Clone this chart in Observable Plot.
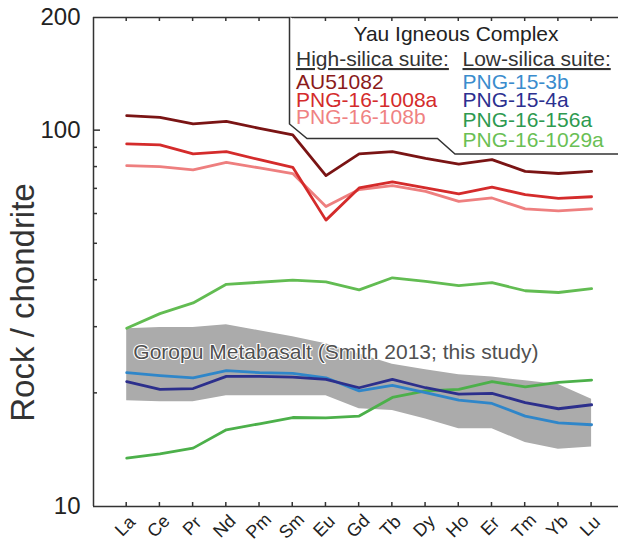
<!DOCTYPE html>
<html><head><meta charset="utf-8">
<script src="https://cdn.jsdelivr.net/npm/d3@7"></script>
<script src="https://cdn.jsdelivr.net/npm/@observablehq/plot@0.6"></script>
<style>
html,body{margin:0;padding:0;background:#fff;}
#chart{position:relative;width:618px;height:547px;overflow:hidden;}
svg{display:block;}
.xlab{position:absolute;left:0;top:0;font-family:'Liberation Sans',Arial,sans-serif;font-size:18px;color:#222;
  line-height:18px;white-space:nowrap;transform-origin:50% 50%;}
</style></head><body><div id="chart"></div>
<script>
// ---- data (chondrite-normalised REE) ----
const elements = ["La","Ce","Pr","Nd","Pm","Sm","Eu","Gd","Tb","Dy","Ho","Er","Tm","Yb","Lu"];
const au51082     = [109.6,108.5,104.2,105.9,101.4,97.4,75.9,86.7,87.9,84.4,81.5,83.7,77.9,76.9,77.9];
const png16_1008a = [92.2,91.6,86.7,87.9,83.7,79.9,57.8,70.4,73.1,70.4,67.9,70.7,67.6,66.0,66.7];
const png16_108b  = [80.7,80.2,78.6,82.3,79.6,76.9,62.8,69.7,71.4,68.9,64.8,66.2,61.9,61.2,61.9];
const png15_3b    = [22.7,22.3,22.0,23.0,22.7,22.6,22.0,20.3,21.0,20.1,19.2,18.8,17.4,16.7,16.5];
const png15_4a    = [21.5,20.5,20.6,22.2,22.2,22.1,21.8,20.7,21.8,20.7,19.9,20.0,18.9,18.2,18.65];
const png16_156a  = [13.45,13.8,14.3,16.0,16.6,17.25,17.2,17.4,19.5,20.3,20.5,21.5,20.8,21.4,21.7];
const png16_1029a = [29.8,32.6,34.8,39.0,39.5,40.0,39.6,37.7,40.6,39.7,38.7,39.4,37.5,37.1,38.0];
const goropuHigh  = [29.7,29.95,29.95,30.45,29.35,28.3,27.1,25.45,23.9,23.1,22.4,22.1,21.6,21.1,19.3];
const goropuLow   = [19.1,19.0,19.0,19.7,19.7,19.7,19.7,18.2,18.0,17.1,16.1,16.1,14.8,14.2,14.4];
const yTickLabels = [10,100,200];
const yMajorTicks = [100];
const yMinorTicks = [20,30,40,50,60,70,80,90];
const bandLabel = "Goropu Metabasalt (Smith 2013; this study)";
const yTitle = "Rock / chondrite";
const legendTitle = "Yau Igneous Complex";
const highSilica = ["AU51082","PNG-16-1008a","PNG-16-108b"];
const lowSilica = ["PNG-15-3b","PNG-15-4a","PNG-16-156a","PNG-16-1029a"];

const FONT = "'Liberation Sans', Arial, Helvetica, sans-serif";

const series = [
  {name:"PNG-16-108b",  values:png16_108b,  color:"#ee7f7f"},
  {name:"PNG-16-1008a", values:png16_1008a, color:"#d42b2b"},
  {name:"AU51082",      values:au51082,     color:"#7a1414"},
  {name:"PNG-16-1029a", values:png16_1029a, color:"#62bc52"},
  {name:"PNG-16-156a",  values:png16_156a,  color:"#4cb04a"},
  {name:"PNG-15-3b",    values:png15_3b,    color:"#2f86c9"},
  {name:"PNG-15-4a",    values:png15_4a,    color:"#2c2f8c"}
];
const legendColors = {
  "AU51082":"#8a1a1a","PNG-16-1008a":"#d42b2b","PNG-16-108b":"#ef8282",
  "PNG-15-3b":"#3a8ccd","PNG-15-4a":"#2c3090","PNG-16-156a":"#2e9a50","PNG-16-1029a":"#6abf55"
};

const band = elements.map((e,i) => ({i, lo: goropuLow[i], hi: goropuHigh[i]}));
const idx = elements.map((e,i) => i);

const chart = Plot.plot({
  width: 618, height: 547,
  marginLeft: 93, marginRight: 0, marginTop: 17, marginBottom: 41,
  style: {fontFamily: FONT, background: "white", color: "#222"},
  x: {type: "linear", domain: [-1, 14.81], axis: null},
  y: {type: "log", domain: [10, 200], axis: null},
  marks: [
    Plot.areaY(band, {x: "i", y1: "lo", y2: "hi", fill: "#ababab"}),
    Plot.text([bandLabel], {x: () => 0.2, y: () => 25.8, text: d => d, textAnchor: "start",
      fontSize: 21, fill: "#505050", stroke: "white", strokeWidth: 2.2}),
    ...series.map(s => Plot.lineY(s.values, {x: (d,i) => i, y: d => d, stroke: s.color,
      strokeWidth: 2.8, strokeLinejoin: "round"})),
    Plot.ruleY([10, 200], {stroke: "#333", strokeWidth: 1.5}),
    Plot.ruleX([-1], {stroke: "#333", strokeWidth: 1.5}),
    Plot.text(yTickLabels, {y: d => d, text: d => String(d), frameAnchor: "left",
      textAnchor: "end", dx: -13, fontSize: 24, fill: "#222"}),
    Plot.text([yTitle], {text: d => d, frameAnchor: "left", rotate: -90, textAnchor: "middle",
      dx: -70.5, dy: 40.5, fontSize: 33, fill: "#333"})
  ]
});
const host = document.getElementById("chart");
host.appendChild(chart);

// ---- ticks, element labels & legend drawn with the plot's own scales ----
const sx = chart.scale("x"), sy = chart.scale("y");
const X = v => sx.apply(v), Y = v => sy.apply(v);
const svg = d3.select(chart);
const g = svg.append("g").attr("stroke", "#333").attr("stroke-width", 1.5);
const x0 = X(-1), yb = Y(10), yt = Y(200);
idx.forEach(i => {
  g.append("line").attr("x1", X(i)).attr("x2", X(i)).attr("y1", yb).attr("y2", yb - 4);
  g.append("line").attr("x1", X(i)).attr("x2", X(i)).attr("y1", yt).attr("y2", yt + 4);
});
yMajorTicks.forEach(v => g.append("line").attr("x1", x0).attr("x2", x0 + 7).attr("y1", Y(v)).attr("y2", Y(v)));
yMinorTicks.forEach(v => g.append("line").attr("x1", x0).attr("x2", x0 + 4).attr("y1", Y(v)).attr("y2", Y(v)));

// rotated element labels (HTML overlay, centred on each tick)
elements.forEach((e,i) => {
  const d = document.createElement("div");
  d.className = "xlab";
  d.textContent = e;
  host.appendChild(d);
  const w = d.offsetWidth, h = d.offsetHeight;
  d.style.left = (X(i) - 1 - w / 2) + "px";
  d.style.top = (yb + 20 - h / 2) + "px";
  d.style.transform = "rotate(-45deg)";
});

// legend box
const lg = svg.append("g").attr("font-family", FONT).attr("font-size", 21).attr("text-anchor", "start");
lg.append("path")
  .attr("d", "M289.5,17 L289.5,124 L307,138.5 L437.5,138.5 L455,154 L620,154")
  .attr("fill", "white").attr("stroke", "#333").attr("stroke-width", 1.5);
lg.append("text").attr("x", 456).attr("y", 40.5).attr("text-anchor", "middle").attr("fill", "#222").text(legendTitle);
lg.append("text").attr("x", 296).attr("y", 66).attr("fill", "#333").attr("text-decoration", "underline").text("High-silica suite:");
lg.append("text").attr("x", 462.5).attr("y", 66).attr("fill", "#333").attr("text-decoration", "underline").text("Low-silica suite:");
const highY = [89, 106.5, 123.5], lowY = [89, 106.5, 126.5, 146.5];
highSilica.forEach((n,k) => lg.append("text").attr("x", 296).attr("y", highY[k]).attr("fill", legendColors[n]).text(n));
lowSilica.forEach((n,k) => lg.append("text").attr("x", 462.5).attr("y", lowY[k]).attr("fill", legendColors[n]).text(n));
</script></body></html>
